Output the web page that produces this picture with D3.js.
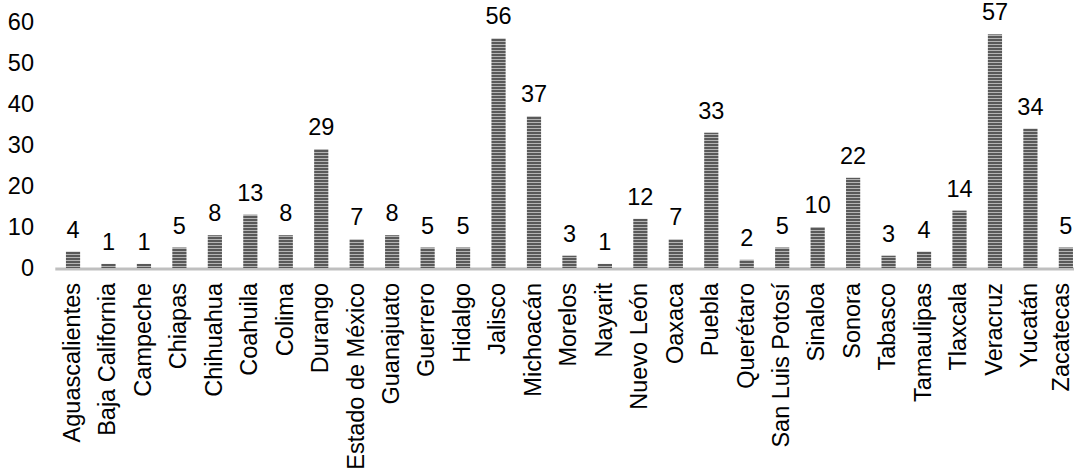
<!DOCTYPE html>
<html>
<head>
<meta charset="utf-8">
<script src="https://cdn.jsdelivr.net/npm/d3@7/dist/d3.min.js"></script>
<style>
  html, body { margin: 0; padding: 0; background: #fff; }
  svg { display: block; }
  text { font-family: "Liberation Sans", Arial, sans-serif; }
</style>
</head>
<body>
<svg id="chart" width="1074" height="475"></svg>
<script>
const categories = ["Aguascalientes","Baja California","Campeche","Chiapas","Chihuahua","Coahuila","Colima","Durango","Estado de México","Guanajuato","Guerrero","Hidalgo","Jalisco","Michoacán","Morelos","Nayarit","Nuevo León","Oaxaca","Puebla","Querétaro","San Luis Potosí","Sinaloa","Sonora","Tabasco","Tamaulipas","Tlaxcala","Veracruz","Yucatán","Zacatecas"];
const values = [4,1,1,5,8,13,8,29,7,8,5,5,56,37,3,1,12,7,33,2,5,10,22,3,4,14,57,34,5];
const yTicks = [0,10,20,30,40,50,60];

const svg = d3.select("#chart");
const fontSize = 23.5;

const defs = svg.append("defs");
const pat = defs.append("pattern")
  .attr("id", "stripes")
  .attr("patternUnits", "userSpaceOnUse")
  .attr("width", 20).attr("height", 3);
pat.append("rect").attr("width", 20).attr("height", 3).attr("fill", "#b4b4b4");
pat.append("rect").attr("width", 20).attr("height", 2).attr("fill", "#595959");

const x = d3.scaleBand()
  .domain(categories)
  .range([55.3, 1083.6])
  .paddingInner(0.6)
  .paddingOuter(0.3);

const y = d3.scaleLinear().domain([0, 60]).range([268, 22]);

// baseline
svg.append("line")
  .attr("x1", x.range()[0]).attr("x2", x.range()[1])
  .attr("y1", y(0) + 1).attr("y2", y(0) + 1)
  .attr("stroke", "#bfbfbf").attr("stroke-width", 3);

// y axis labels
const yAxis = svg.append("g")
  .attr("transform", "translate(34,0)")
  .call(d3.axisLeft(y).tickValues(yTicks).tickSize(0).tickPadding(0).tickFormat(d3.format("d")));
yAxis.select(".domain").remove();
yAxis.selectAll("text")
  .attr("font-size", fontSize)
  .attr("font-family", "Liberation Sans, Arial, sans-serif")
  .attr("fill", "#000");

// bars
svg.append("g").selectAll("rect")
  .data(values)
  .join("rect")
  .attr("x", (d, i) => x(categories[i]))
  .attr("width", x.bandwidth())
  .attr("y", d => y(d))
  .attr("height", d => y(0) - y(d))
  .attr("fill", "url(#stripes)");

// value labels
svg.append("g").selectAll("text")
  .data(values)
  .join("text")
  .attr("x", (d, i) => x(categories[i]) + x.bandwidth() / 2)
  .attr("y", d => y(d) - 14)
  .attr("text-anchor", "middle")
  .attr("font-size", fontSize)
  .attr("fill", "#000")
  .text(d => d);

// x axis labels
const xAxis = svg.append("g")
  .attr("transform", `translate(0,${y(0)})`)
  .call(d3.axisBottom(x).tickSize(0).tickPadding(0));
xAxis.select(".domain").remove();
const lastCat = categories[categories.length - 1];
xAxis.selectAll(".tick")
  .filter(d => d === lastCat)
  .attr("transform", `translate(${x(lastCat) + x.bandwidth() / 2 - 4},0)`);
xAxis.selectAll("text")
  .attr("font-size", fontSize)
  .attr("font-family", "Liberation Sans, Arial, sans-serif")
  .attr("fill", "#000")
  .attr("transform", "rotate(-90)")
  .attr("text-anchor", "end")
  .attr("x", -15)
  .attr("y", 0)
  .attr("dy", "0.29em");
</script>
</body>
</html>
